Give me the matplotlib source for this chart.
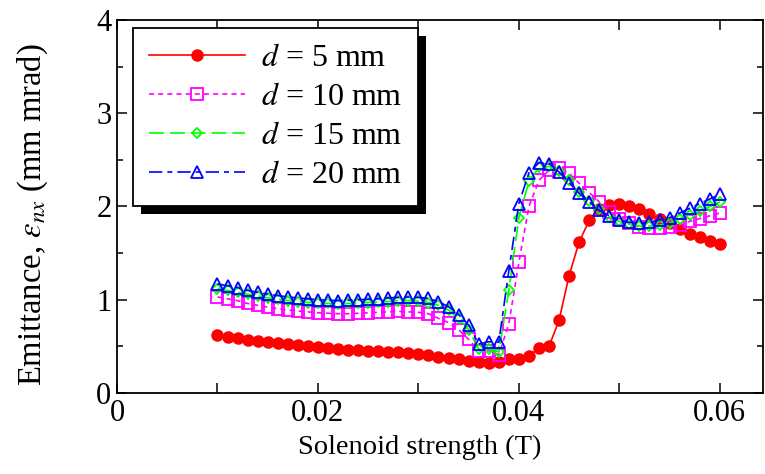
import matplotlib
matplotlib.use("Agg")
import matplotlib.pyplot as plt
from matplotlib.patches import Rectangle

plt.rcParams['font.family'] = ['Liberation Serif', 'DejaVu Serif']
plt.rcParams['mathtext.fontset'] = 'stix'

solenoid = [0.010, 0.011, 0.012, 0.013, 0.014, 0.015, 0.016, 0.017, 0.018, 0.019,
            0.020, 0.021, 0.022, 0.023, 0.024, 0.025, 0.026, 0.027, 0.028, 0.029,
            0.030, 0.031, 0.032, 0.033, 0.034, 0.035, 0.036, 0.037, 0.038, 0.039,
            0.040, 0.041, 0.042, 0.043, 0.044, 0.045, 0.046, 0.047, 0.048, 0.049,
            0.050, 0.051, 0.052, 0.053, 0.054, 0.055, 0.056, 0.057, 0.058, 0.059, 0.060]

emit_d5 = [0.62, 0.60, 0.59, 0.57, 0.56, 0.55, 0.535, 0.525, 0.51, 0.50,
           0.49, 0.48, 0.47, 0.465, 0.46, 0.455, 0.45, 0.44, 0.435, 0.425,
           0.42, 0.41, 0.39, 0.37, 0.36, 0.345, 0.335, 0.325, 0.335, 0.36,
           0.365, 0.40, 0.48, 0.50, 0.78, 1.26, 1.62, 1.85, 1.97, 2.02,
           2.03, 2.01, 1.97, 1.92, 1.87, 1.82, 1.76, 1.71, 1.67, 1.63, 1.60]

emit_d10 = [1.03, 1.01, 0.99, 0.96, 0.94, 0.92, 0.905, 0.89, 0.88, 0.87,
            0.86, 0.855, 0.85, 0.85, 0.855, 0.86, 0.865, 0.87, 0.875, 0.87,
            0.865, 0.85, 0.80, 0.755, 0.68, 0.575, 0.455, 0.455, 0.41, 0.74,
            1.40, 2.00, 2.28, 2.39, 2.41, 2.355, 2.25, 2.15, 2.05, 1.945,
            1.87, 1.82, 1.78, 1.765, 1.765, 1.78, 1.80, 1.84, 1.87, 1.90, 1.93]

emit_d15 = [1.12, 1.10, 1.08, 1.06, 1.04, 1.02, 1.005, 0.99, 0.98, 0.97,
            0.965, 0.96, 0.955, 0.96, 0.965, 0.97, 0.975, 0.98, 0.99, 0.99,
            0.985, 0.97, 0.94, 0.89, 0.80, 0.68, 0.47, 0.47, 0.44, 1.10,
            1.88, 2.27, 2.42, 2.43, 2.38, 2.28, 2.16, 2.06, 1.97, 1.89,
            1.84, 1.81, 1.79, 1.79, 1.80, 1.82, 1.87, 1.91, 1.95, 2.00, 2.05]

emit_d20 = [1.17, 1.15, 1.13, 1.10, 1.08, 1.06, 1.045, 1.03, 1.02, 1.01,
            1.00, 0.995, 0.99, 0.995, 1.00, 1.005, 1.01, 1.02, 1.025, 1.03,
            1.025, 1.015, 0.98, 0.925, 0.84, 0.73, 0.525, 0.55, 0.545, 1.31,
            2.03, 2.36, 2.47, 2.46, 2.37, 2.255, 2.14, 2.05, 1.96, 1.90,
            1.855, 1.83, 1.82, 1.83, 1.855, 1.88, 1.93, 1.98, 2.03, 2.08, 2.13]

labels = ['$d$ = 5 mm', '$d$ = 10 mm', '$d$ = 15 mm', '$d$ = 20 mm']
xticks = [0, 0.02, 0.04, 0.06]
xtick_labels = ['0', '0.02', '0.04', '0.06']
yticks = [0, 1, 2, 3, 4]

TICK_FS = 22
LABEL_FS = 20.5
YLABEL_FS = 23.5
LEG_FS = 23

fig = plt.figure(figsize=(7.65, 4.74), dpi=100)
ax = fig.add_axes([117/765, 1 - 393/474, (763-117)/765, (393-20)/474])

lw = 1.2
ax.plot(solenoid, emit_d5, color='#ff0000', ls='-', lw=lw, marker='o', ms=8,
        mfc='#ff0000', mec='#ff0000', label=labels[0])
ax.plot(solenoid, emit_d10, color='#ff00ff', ls=(0, (3, 2.5)), lw=lw, marker='s', ms=8,
        mfc='none', mec='#ff00ff', mew=1.3, label=labels[1])
ax.plot(solenoid, emit_d15, color='#00ff00', ls=(0, (9, 3.5)), lw=lw, marker='D', ms=5.5,
        mfc='none', mec='#00ff00', mew=1.3, label=labels[2])
ax.plot(solenoid, emit_d20, color='#0000ff', ls=(0, (8, 3, 3, 3)), lw=lw, marker='^', ms=9,
        mfc='none', mec='#0000ff', mew=1.3, label=labels[3])

ax.set_xlim(0, 0.0643)
ax.set_ylim(0, 4)
ax.set_xticks(xticks)
ax.set_xticklabels(xtick_labels)
ax.set_xticks([0.01, 0.03, 0.05], minor=True)
ax.set_yticks(yticks)
ax.set_yticks([0.5, 1.5, 2.5, 3.5], minor=True)
ax.tick_params(axis='both', which='both', direction='in', top=True, right=True,
               labelsize=TICK_FS, width=1.1, pad=4)
ax.tick_params(axis='x', which='both', length=7)
ax.tick_params(axis='y', which='major', length=7)
ax.tick_params(axis='y', which='minor', length=4)
for s in ax.spines.values():
    s.set_linewidth(1.3)

ax.set_xlabel('Solenoid strength (T)', fontsize=LABEL_FS)
ax.set_ylabel(r'Emittance, $\varepsilon_{nx}$ (mm mrad)', fontsize=YLABEL_FS)
ax.xaxis.set_label_coords(0.469, -0.112)
ax.yaxis.set_label_coords(-0.103, 0.477)

leg = ax.legend(loc='upper left', bbox_to_anchor=(0.025, 0.979), borderaxespad=0,
                fontsize=LEG_FS, frameon=True, fancybox=False, framealpha=1,
                edgecolor='black', handlelength=3.0, handletextpad=0.5,
                labelspacing=0.3, borderpad=0.5)
leg.get_frame().set_linewidth(1.3)
leg.set_zorder(6)

fig.canvas.draw()
bb = leg.get_window_extent()
off = 8
shadow = Rectangle(((bb.x0 + off) / fig.bbox.width, (bb.y0 - off) / fig.bbox.height),
                   bb.width / fig.bbox.width, bb.height / fig.bbox.height,
                   transform=fig.transFigure, facecolor='black', edgecolor='none', zorder=5)
ax.add_artist(shadow)

fig.savefig('out.png', dpi=100)
